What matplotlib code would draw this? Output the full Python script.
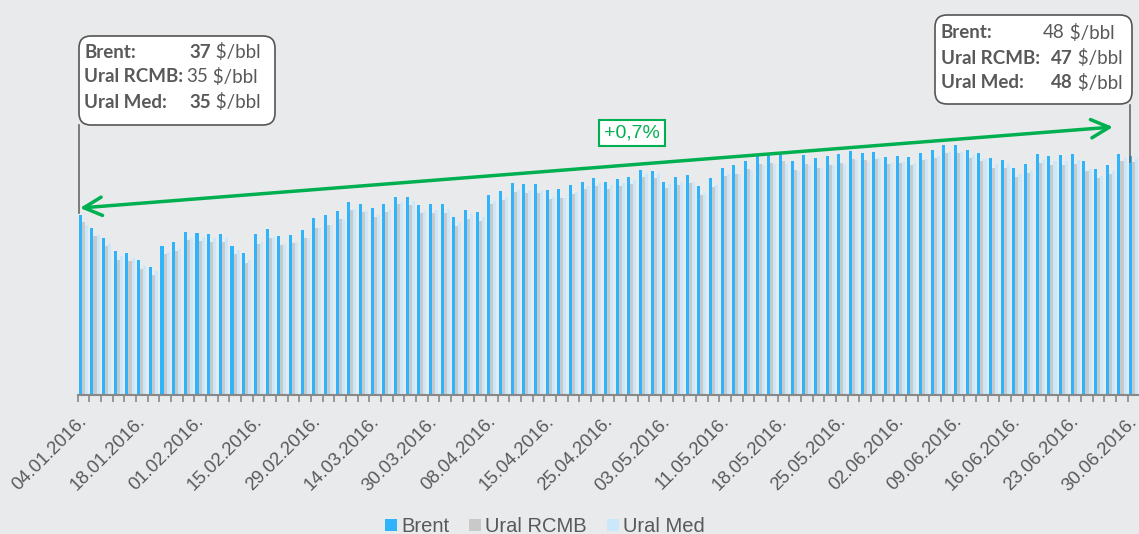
import numpy as np
import matplotlib.pyplot as plt
import matplotlib.transforms as mtransforms
from matplotlib.patches import FancyBboxPatch

# data (USD/bbl), 91 quotes, Jan - Jun 2016
brent = [36.7, 34.1, 32.0, 29.4, 29.0, 27.5, 26.1, 30.4, 31.2, 33.3, 33.0, 32.8, 32.9, 30.5, 28.9,
         32.9, 33.9, 32.4, 32.6, 33.7, 36.1, 36.7, 37.6, 39.4, 38.9, 38.2, 39.0, 40.5, 40.4, 38.8,
         39.0, 39.0, 36.3, 37.8, 37.3, 40.8, 41.7, 43.3, 43.1, 43.1, 41.8, 42.0, 42.8, 43.5, 44.2,
         43.5, 44.0, 44.5, 45.9, 45.8, 43.5, 44.6, 44.9, 42.7, 44.3, 46.4, 46.9, 47.8, 48.7, 49.0,
         49.6, 47.8, 48.9, 48.3, 48.8, 49.1, 49.8, 49.5, 49.6, 48.6, 48.8, 48.6, 49.4, 50.0, 51.1,
         51.0, 50.0, 49.5, 48.3, 48.0, 46.3, 47.1, 49.3, 48.7, 48.9, 49.3, 47.8, 46.2, 46.9, 49.3,
         48.8]
ural_rcmb = [35.4, 32.4, 30.4, 27.6, 27.3, 25.7, 24.6, 28.8, 29.4, 31.6, 31.5, 31.2, 31.2, 28.8, 27.0,
             30.9, 32.1, 30.6, 31.1, 32.1, 34.1, 34.7, 35.9, 37.8, 37.4, 36.3, 37.3, 39.0, 38.8, 37.1,
             37.2, 37.2, 34.5, 36.0, 35.6, 39.0, 39.9, 41.5, 41.2, 41.3, 40.0, 40.2, 41.0, 42.0, 42.7,
             42.1, 42.7, 43.1, 44.6, 44.4, 42.2, 42.9, 43.2, 40.8, 42.5, 44.7, 45.1, 46.1, 47.1, 47.3,
             47.8, 45.9, 47.1, 46.4, 47.0, 47.3, 48.1, 47.9, 48.1, 47.1, 47.3, 47.0, 47.9, 48.4, 49.5,
             49.4, 48.4, 47.8, 46.4, 46.4, 44.5, 45.4, 47.4, 46.9, 46.9, 47.2, 45.7, 44.3, 45.2, 47.8,
             47.6]
ural_med = [34.8, 32.6, 30.8, 28.4, 28.0, 26.3, 25.3, 29.2, 29.9, 32.1, 32.2, 32.0, 32.0, 29.7, 27.6,
            31.3, 32.3, 30.9, 31.3, 32.1, 34.1, 34.7, 35.9, 37.9, 37.6, 36.7, 37.8, 39.5, 39.6, 37.6,
            37.8, 37.9, 35.3, 36.9, 36.4, 39.6, 40.4, 41.8, 41.6, 41.7, 40.5, 40.3, 41.4, 42.6, 43.3,
            42.9, 43.3, 43.8, 45.4, 45.2, 43.0, 43.4, 43.5, 41.3, 42.9, 45.1, 45.2, 45.9, 46.9, 47.1,
            47.2, 45.7, 46.9, 46.3, 46.9, 47.1, 47.9, 47.6, 48.4, 47.3, 47.5, 47.3, 48.1, 48.8, 49.7,
            49.7, 48.9, 48.1, 47.1, 47.1, 45.1, 45.9, 48.0, 47.8, 47.8, 48.0, 46.2, 44.8, 45.7, 48.4,
            48.2]
date_labels = ['04.01.2016.', '18.01.2016.', '01.02.2016.', '15.02.2016.', '29.02.2016.',
               '14.03.2016.', '30.03.2016.', '08.04.2016.', '15.04.2016.', '25.04.2016.',
               '03.05.2016.', '11.05.2016.', '18.05.2016.', '25.05.2016.', '02.06.2016.',
               '09.06.2016.', '16.06.2016.', '23.06.2016.', '30.06.2016.']
series_names = ['Brent', 'Ural RCMB', 'Ural Med']

bg = '#E9EAEC'
c_brent, c_rcmb, c_med = '#2FB4FC', '#C9C9C9', '#CBE8FA'
grey = '#595959'
green = '#00B050'

W, H = 1139, 534
fig = plt.figure(figsize=(W / 100, H / 100), dpi=100, facecolor=bg)
ax = fig.add_axes([77.5 / W, 139 / H, 1062 / W, 385 / H])
ax.set_facecolor(bg)

n = len(brent)
x = np.arange(n)
w = 0.26
ax.bar(x - w, brent, w, color=c_brent, label=series_names[0])
ax.bar(x, ural_rcmb, w, color=c_rcmb, label=series_names[1])
ax.bar(x + w, ural_med, w, color=c_med, label=series_names[2])

ax.set_xlim(-0.5, n - 0.5)
ax.set_ylim(0, 78.6)
for s in ['top', 'right', 'left']:
    ax.spines[s].set_visible(False)
ax.spines['bottom'].set_color('#888888')
ax.spines['bottom'].set_linewidth(1.5)
ax.set_yticks([])
ax.set_xticks(np.arange(0, n, 5))
ax.set_xticklabels(date_labels, rotation=45, ha='right', rotation_mode='anchor',
                   fontsize=13.3, color=grey, family='Liberation Sans')
ax.set_xticks(np.arange(-0.5, n, 1), minor=True)
ax.tick_params(axis='x', which='major', length=0, pad=13)
ax.tick_params(axis='x', which='minor', length=5, color='#888888', width=1.2)
shift = mtransforms.ScaledTranslation(-5 / 100, 0, fig.dpi_scale_trans)
for lbl in ax.get_xticklabels():
    lbl.set_transform(lbl.get_transform() + shift)

# legend
fig.legend(loc='lower center', bbox_to_anchor=(545 / W, -0.038), ncol=3, frameon=False,
           handlelength=0.6, handleheight=0.6, handletextpad=0.2, columnspacing=1.0,
           prop={'family': 'Liberation Sans', 'size': 14.5}, labelcolor=grey)

# overlay in pixel coordinates for the callouts
ov = fig.add_axes([0, 0, 1, 1], zorder=5)
ov.set_xlim(0, W)
ov.set_ylim(H, 0)
ov.axis('off')

ov.annotate('', xy=(80, 208), xytext=(1113, 127),
            arrowprops=dict(arrowstyle='<->,head_length=0.65,head_width=0.33', color=green,
                            lw=2.5, mutation_scale=20, shrinkA=0, shrinkB=0))
ov.text(632, 133, '+0,7%', ha='center', va='center', color=green, fontsize=14,
        family='Liberation Sans',
        bbox=dict(boxstyle='square,pad=0.25', fc='white', ec=green, lw=1.5))

ov.plot([79, 79], [125, 213], color='#666666', lw=1.2)
ov.plot([1130, 1130], [105, 162], color='#666666', lw=1.2)


def callout(x0, y0, bw, bh, lab_x, num_xs, ys, nums, bold):
    ov.add_patch(FancyBboxPatch((x0, y0), bw, bh, boxstyle='round,pad=0,rounding_size=12',
                                fc='white', ec='#555555', lw=1.2))
    for name, nx, yy, v, b in zip(series_names, num_xs, ys, nums, bold):
        ov.text(lab_x, yy, name + ':', ha='left', va='center', fontsize=13.5,
                family='Lato', weight='bold', color=grey)
        t = ov.text(nx, yy, str(v), ha='right', va='center', fontsize=13.5,
                    family='Lato', weight='bold' if b else 'normal', color=grey)
        ov.annotate(' $/bbl', xy=(1, 0.5), xycoords=t, ha='left', va='center',
                    fontsize=13.5, family='Lato', color=grey)


callout(79, 36, 196, 89, 84, [211, 208, 211], [52, 77, 102], [37, 35, 35], [True, False, True])
callout(935, 15, 197, 89, 941, [1065, 1073, 1073], [33, 58, 83], [48, 47, 48], [False, True, True])

fig.savefig('out.png', dpi=100, facecolor=bg)
